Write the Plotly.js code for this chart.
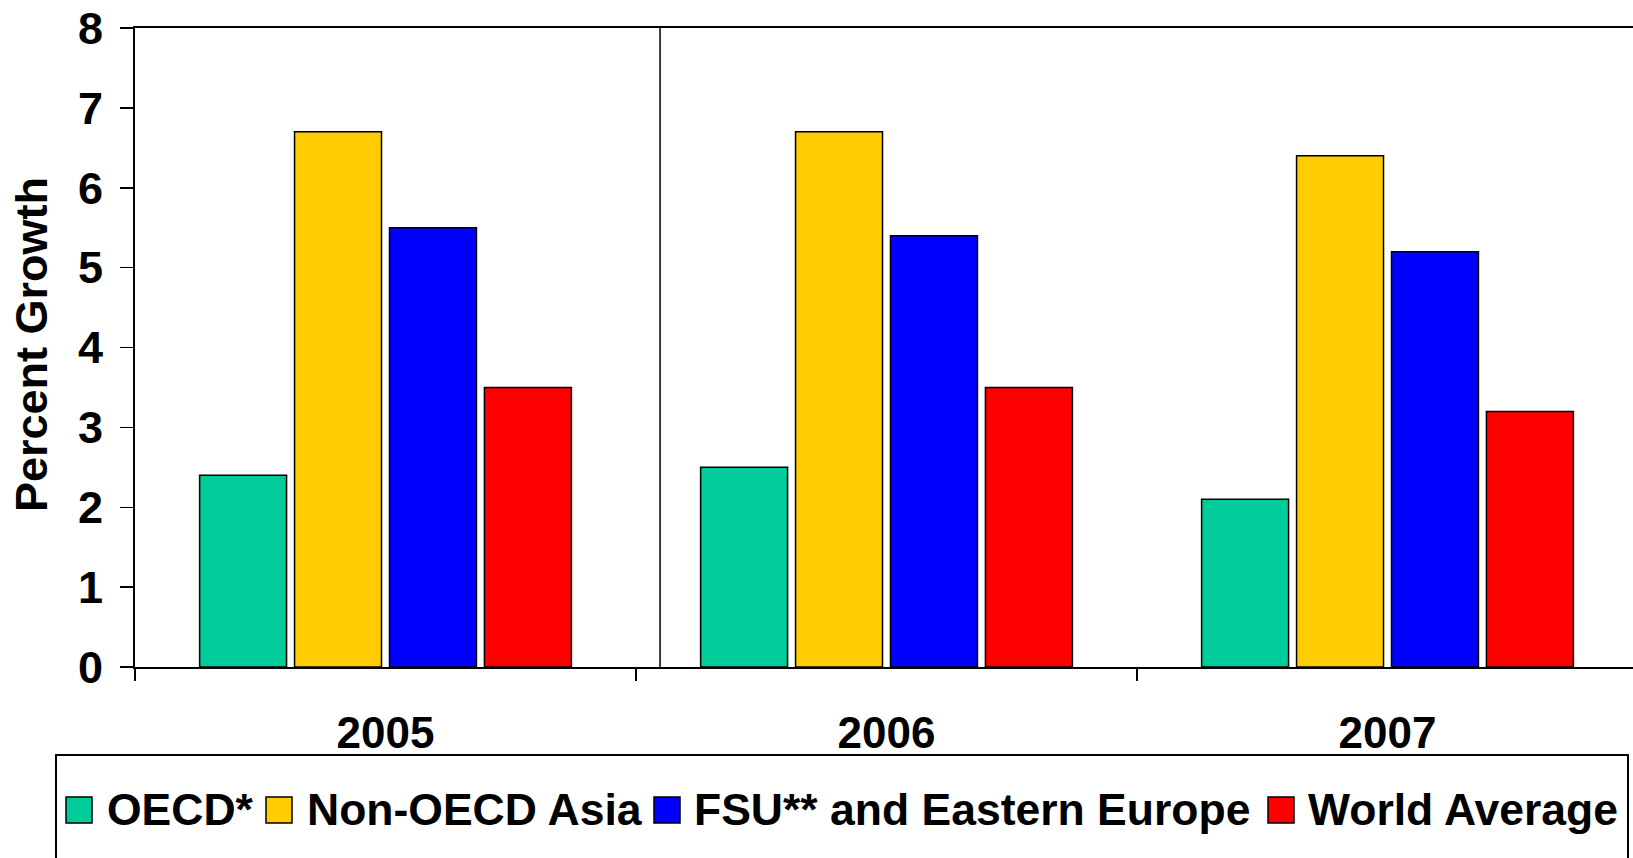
<!DOCTYPE html>
<html>
<head>
<meta charset="utf-8">
<script src="https://cdn.plot.ly/plotly-3.0.1.min.js"></script>
<style>
  html, body { margin: 0; padding: 0; background: #ffffff; }
  #chart { width: 1633px; height: 858px; }
</style>
</head>
<body>
<div id="chart"></div>
<script>
// ---- Data ----
const years = ["2005", "2006", "2007"];
const seriesNames = ["OECD*", "Non-OECD Asia", "FSU** and Eastern Europe", "World Average"];
const oecd = [2.4, 2.5, 2.1];
const nonOecdAsia = [6.7, 6.7, 6.4];
const fsuEasternEurope = [5.5, 5.4, 5.2];
const worldAverage = [3.5, 3.5, 3.2];
const yTickValues = [0, 1, 2, 3, 4, 5, 6, 7, 8];

// ---- Styles ----
const colors = ["#00CC99", "#FFCC00", "#0000FF", "#FF0000"];
const FONT = "Liberation Sans, Arial, Helvetica, sans-serif";
const W = 1633, H = 858;
const M = { l: 135, r: 0, t: 28, b: 191 };

const seriesValues = [oecd, nonOecdAsia, fsuEasternEurope, worldAverage];
const traces = seriesValues.map((vals, i) => ({
  type: "bar",
  name: seriesNames[i],
  x: years,
  y: vals,
  marker: { color: colors[i], line: { color: "#000000", width: 1.5 } },
  showlegend: false,
  hoverinfo: "x+y+name"
}));

// pixel -> paper helpers for decorative items
const plotW = W - M.l - M.r, plotH = H - M.t - M.b;
const px2x = p => (p - M.l) / plotW;
const px2y = p => (H - M.b - p) / plotH;

// Custom legend (large swatches like the original)
const legendSwatchX = [66, 266, 654, 1268];
const legendTextX = [105, 305, 692, 1306];
const legendCenterY = 810;
const sw = 26;
const shapes = [];
const annotations = [];

// legend frame (bottom runs off the picture)
shapes.push({
  type: "rect", xref: "paper", yref: "paper",
  x0: px2x(56), x1: px2x(1628), y0: px2y(755), y1: px2y(900),
  line: { color: "#000000", width: 2 }, fillcolor: "rgba(0,0,0,0)", layer: "above"
});
seriesNames.forEach((nm, i) => {
  shapes.push({
    type: "rect", xref: "paper", yref: "paper",
    x0: px2x(legendSwatchX[i]), x1: px2x(legendSwatchX[i] + sw),
    y0: px2y(legendCenterY + sw / 2), y1: px2y(legendCenterY - sw / 2),
    line: { color: "#000000", width: 1.5 }, fillcolor: colors[i]
  });
  annotations.push({
    xref: "paper", yref: "paper",
    x: px2x(legendTextX[i]), y: px2y(legendCenterY),
    xanchor: "left", yanchor: "middle", showarrow: false,
    text: "<b>" + nm + "</b>",
    font: { family: FONT, size: 44.5, color: "#000000" }
  });
});

// stray vertical rule seen in the original, inside the 2006 slot
shapes.push({
  type: "line", xref: "x", yref: "paper",
  x0: 0.548, x1: 0.548, y0: 0, y1: 1,
  line: { color: "#000000", width: 1.5 }
});

// y axis title
annotations.push({
  xref: "paper", yref: "paper",
  x: px2x(31), y: px2y(345),
  xanchor: "center", yanchor: "middle", showarrow: false,
  textangle: -90,
  text: "<b>Percent Growth</b>",
  font: { family: FONT, size: 45, color: "#000000" }
});

const layout = {
  width: W, height: H,
  margin: M,
  paper_bgcolor: "#ffffff",
  plot_bgcolor: "#ffffff",
  barmode: "group",
  bargap: 0.242,
  bargroupgap: 0.084,
  showlegend: false,
  font: { family: FONT, color: "#000000" },
  xaxis: {
    type: "category",
    range: [-0.5, 2.49],
    tickvals: years,
    ticktext: years.map(y => "<b>" + y + "</b>"),
    showline: true, linecolor: "#000000", linewidth: 2, mirror: true,
    showgrid: false, zeroline: false,
    ticks: "outside", tickson: "boundaries", ticklen: 12, tickwidth: 2, tickcolor: "#000000",
    tickfont: { family: FONT, size: 44, color: "#000000" },
    ticklabelstandoff: 26,
    fixedrange: true
  },
  yaxis: {
    range: [0, 8],
    tickvals: yTickValues,
    ticktext: yTickValues.map(v => "<b>" + v + "</b>"),
    showline: true, linecolor: "#000000", linewidth: 2, mirror: false,
    showgrid: false, zeroline: false,
    ticks: "outside", ticklen: 13, tickwidth: 1.5, tickcolor: "#000000",
    tickfont: { family: FONT, size: 45, color: "#000000" },
    ticklabelstandoff: 8,
    fixedrange: true
  },
  shapes: shapes,
  annotations: annotations
};

Plotly.newPlot("chart", traces, layout, { displayModeBar: false, staticPlot: true });
</script>
</body>
</html>
